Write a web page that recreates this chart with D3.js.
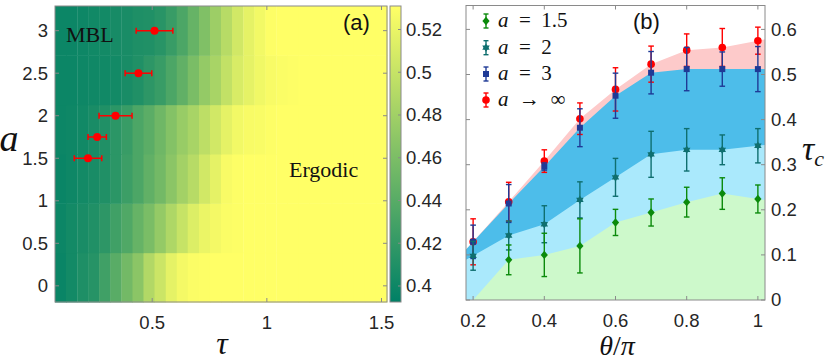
<!DOCTYPE html>
<html><head><meta charset="utf-8">
<script src="https://cdn.jsdelivr.net/npm/d3@7"></script>
<style>body{margin:0;background:#fff}svg{display:block}</style>
</head><body>
<script>
// ---------- Panel (a) data ----------
const tauCols = [0.100,0.148,0.197,0.245,0.293,0.341,0.390,0.438,0.486,0.534,0.583,0.631,0.679,0.728,0.776,0.824,0.872,0.921,0.969,1.017,1.066,1.114,1.162,1.210,1.259,1.307,1.355,1.403,1.452,1.500];
const aRows = [0.1, 0.68, 1.26, 1.84, 2.42, 3.0];
const heatA010 = [0.398,0.403,0.409,0.413,0.427,0.441,0.455,0.468,0.489,0.503,0.517,0.525,0.529,0.530,0.531,0.531,0.531,0.531,0.531,0.531,0.531,0.531,0.531,0.531,0.531,0.531,0.531,0.531,0.531,0.531];
const heatA068 = [0.399,0.403,0.406,0.410,0.417,0.427,0.436,0.448,0.459,0.473,0.487,0.500,0.512,0.520,0.525,0.529,0.530,0.531,0.531,0.531,0.531,0.531,0.531,0.531,0.531,0.531,0.531,0.531,0.531,0.531];
const heatA126 = [0.398,0.400,0.403,0.406,0.410,0.416,0.425,0.434,0.445,0.455,0.468,0.481,0.492,0.506,0.517,0.527,0.530,0.531,0.531,0.531,0.531,0.531,0.531,0.531,0.531,0.531,0.531,0.531,0.531,0.531];
const heatA184 = [0.399,0.400,0.402,0.406,0.410,0.416,0.423,0.434,0.442,0.453,0.464,0.475,0.484,0.495,0.506,0.517,0.524,0.527,0.528,0.530,0.531,0.531,0.531,0.531,0.531,0.531,0.531,0.531,0.531,0.531];
const heatA242 = [0.399,0.399,0.400,0.401,0.402,0.403,0.406,0.410,0.417,0.423,0.434,0.445,0.459,0.473,0.484,0.498,0.510,0.517,0.523,0.527,0.529,0.530,0.531,0.531,0.531,0.531,0.531,0.531,0.531,0.531];
const heatA300 = [0.399,0.399,0.400,0.402,0.403,0.405,0.406,0.409,0.410,0.414,0.423,0.434,0.448,0.462,0.478,0.492,0.506,0.517,0.524,0.530,0.531,0.531,0.531,0.531,0.531,0.531,0.531,0.531,0.531,0.531];
const heatRows = [heatA010, heatA068, heatA126, heatA184, heatA242, heatA300];
const critA = [1.5, 1.75, 2, 2.5, 3];
const critTau = [0.22, 0.26, 0.34, 0.44, 0.51];
const critTauErr = [0.06, 0.04, 0.072, 0.058, 0.08];
const aTicks = [0, 0.5, 1, 1.5, 2, 2.5, 3];
const tauTicks = [0.5, 1, 1.5];
const cbTicks = [0.4, 0.42, 0.44, 0.46, 0.48, 0.5, 0.52];
const cbTickLabels = ["0.4","0.42","0.44","0.46","0.48","0.5","0.52"];

// ---------- Panel (b) data ----------
const theta = [0.2, 0.3, 0.4, 0.5, 0.6, 0.7, 0.8, 0.9, 1.0];
const tcInf    = [0.129,0.218,0.308,0.402,0.467,0.523,0.554,0.560,0.575];
const tcInfErr = [0.051,0.043,0.025,0.035,0.048,0.040,0.036,0.042,0.030];
const tcA3     = [0.129,0.214,0.296,0.382,0.453,0.504,0.512,0.512,0.512];
const tcA3Err  = [0.037,0.042,0.008,0.042,0.050,0.047,0.048,0.038,0.050];
const tcA2     = [0.098,0.143,0.168,0.222,0.272,0.323,0.333,0.333,0.342];
const tcA2Err  = [0.032,0.032,0.041,0.040,0.042,0.051,0.047,0.033,0.038];
const tcA15    = [0.000,0.089,0.100,0.120,0.172,0.194,0.217,0.236,0.224];
const tcA15Err = [0.000,0.033,0.048,0.060,0.029,0.030,0.033,0.035,0.031];
const thetaTicks = [0.2, 0.4, 0.6, 0.8, 1];
const tcTicks = [0, 0.1, 0.2, 0.3, 0.4, 0.5, 0.6];

const W = 831, H = 362;
const svg = d3.select("body").append("svg").attr("width", W).attr("height", H);
const axisColor = "#8a8a8a", textColor = "#262626";
const sans = "'Liberation Sans', Arial, sans-serif";
const serif = "'Liberation Serif', 'Times New Roman', serif";
const tickFs = 18.5;

// ================= Panel (a) =================
const A = {l: 55, r: 387, t: 6, b: 302};
const dTau = tauCols[1] - tauCols[0];
const dA = aRows[1] - aRows[0];
const xa = d3.scaleLinear().domain([tauCols[0] - dTau/2, tauCols[tauCols.length-1] + dTau/2]).range([A.l, A.r]);
const ya = d3.scaleLinear().domain([aRows[0] - dA/2, aRows[aRows.length-1] + dA/2]).range([A.b, A.t]);
const cmin = 0.3925, cmax = 0.531;
const color = d3.scaleSequential(d3.interpolateRgb("#008066", "#ffff66")).domain([cmin, cmax]).clamp(true);

const cells = [];
aRows.forEach((a, i) => heatRows[i].forEach((v, j) => cells.push({a, tau: tauCols[j], v})));
svg.append("g").selectAll("rect").data(cells).join("rect")
  .attr("x", d => xa(d.tau - dTau/2))
  .attr("y", d => ya(d.a + dA/2))
  .attr("width", d => xa(d.tau + dTau/2) - xa(d.tau - dTau/2) + 0.5)
  .attr("height", d => ya(d.a - dA/2) - ya(d.a + dA/2) + 0.5)
  .attr("fill", d => color(d.v));

// frame + ticks (a)
const ga = svg.append("g");
ga.append("rect").attr("x", A.l).attr("y", A.t).attr("width", A.r - A.l).attr("height", A.b - A.t)
  .attr("fill", "none").attr("stroke", axisColor).attr("stroke-width", 1);
aTicks.forEach(t => {
  const y = ya(t);
  ga.append("line").attr("x1", A.l).attr("x2", A.l + 4).attr("y1", y).attr("y2", y).attr("stroke", axisColor);
  ga.append("line").attr("x1", A.r).attr("x2", A.r - 4).attr("y1", y).attr("y2", y).attr("stroke", axisColor);
  ga.append("text").attr("x", A.l - 7).attr("y", y).attr("dy", "0.35em").attr("text-anchor", "end")
    .attr("font-family", sans).attr("font-size", tickFs).attr("fill", textColor).text(t);
});
tauTicks.forEach(t => {
  const x = xa(t);
  ga.append("line").attr("x1", x).attr("x2", x).attr("y1", A.b).attr("y2", A.b - 4).attr("stroke", axisColor);
  ga.append("line").attr("x1", x).attr("x2", x).attr("y1", A.t).attr("y2", A.t + 4).attr("stroke", axisColor);
  ga.append("text").attr("x", x).attr("y", A.b + 27).attr("text-anchor", "middle")
    .attr("font-family", sans).attr("font-size", tickFs).attr("fill", textColor).text(t);
});

// critical points
const gc = svg.append("g");
critA.forEach((a, i) => {
  const y = ya(a), x0 = xa(critTau[i] - critTauErr[i]), x1 = xa(critTau[i] + critTauErr[i]);
  gc.append("line").attr("x1", x0).attr("x2", x1).attr("y1", y).attr("y2", y).attr("stroke", "#ff0000").attr("stroke-width", 1.5);
  [x0, x1].forEach(x => gc.append("line").attr("x1", x).attr("x2", x).attr("y1", y - 3).attr("y2", y + 3).attr("stroke", "#ff0000").attr("stroke-width", 1.5));
  gc.append("circle").attr("cx", xa(critTau[i])).attr("cy", y).attr("r", 4).attr("fill", "#ff0000");
});

svg.append("text").attr("x", 66).attr("y", 42).attr("font-family", serif).attr("font-size", 22).attr("fill", "#111").text("MBL");
svg.append("text").attr("x", 289).attr("y", 177).attr("font-family", serif).attr("font-size", 22).attr("fill", "#111").text("Ergodic");
svg.append("text").attr("x", 343).attr("y", 30).attr("font-family", sans).attr("font-size", 22).attr("fill", "#111").text("(a)");
svg.append("text").attr("x", 9).attr("y", 151).attr("text-anchor", "middle").attr("font-family", serif)
  .attr("font-style", "italic").attr("font-size", 38).attr("fill", "#111").text("a");
svg.append("text").attr("x", 222).attr("y", 354).attr("text-anchor", "middle").attr("font-family", serif)
  .attr("font-style", "italic").attr("font-size", 32).attr("fill", "#111").text("τ");

// colorbar
const CB = {l: 390, r: 401, t: 6, b: 302};
const yc = d3.scaleLinear().domain([cmin, cmax]).range([CB.b, CB.t]);
const defs = svg.append("defs");
const grad = defs.append("linearGradient").attr("id", "cbgrad").attr("x1", 0).attr("y1", 1).attr("x2", 0).attr("y2", 0);
d3.range(0, 1.0001, 0.1).forEach(s => grad.append("stop").attr("offset", s).attr("stop-color", color(cmin + s * (cmax - cmin))));
svg.append("rect").attr("x", CB.l).attr("y", CB.t).attr("width", CB.r - CB.l).attr("height", CB.b - CB.t)
  .attr("fill", "url(#cbgrad)").attr("stroke", axisColor).attr("stroke-width", 1);
cbTicks.forEach((t, i) => {
  const y = yc(t);
  svg.append("line").attr("x1", CB.r).attr("x2", CB.r - 3).attr("y1", y).attr("y2", y).attr("stroke", axisColor);
  svg.append("text").attr("x", CB.r + 5).attr("y", y).attr("dy", "0.35em").attr("font-family", sans)
    .attr("font-size", tickFs).attr("fill", textColor).text(cbTickLabels[i]);
});

// ================= Panel (b) =================
const B = {l: 466, r: 765, t: 5.5, b: 300};
const xb = d3.scaleLinear().domain([0.18, 1.02]).range([B.l, B.r]);
const yb = d3.scaleLinear().domain([0, 0.653]).range([B.b, B.t]);
defs.append("clipPath").attr("id", "clipb").append("rect").attr("x", B.l).attr("y", B.t).attr("width", B.r - B.l).attr("height", B.b - B.t);

function areaPts(vals) {
  const pts = theta.map((t, i) => [xb(t), yb(vals[i])]);
  const n = pts.length;
  const ext = (p, q, X) => [X, p[1] + (q[1] - p[1]) * (X - p[0]) / (q[0] - p[0])];
  return [ext(pts[0], pts[1], B.l), ...pts, ext(pts[n-2], pts[n-1], B.r)];
}
const gArea = svg.append("g").attr("clip-path", "url(#clipb)");
const area = d3.area().x(d => d[0]).y0(yb(0)).y1(d => d[1]);
const series = [
  {vals: tcInf, err: tcInfErr, fill: "#fdcaca", col: "#ff0000", sym: "circle"},
  {vals: tcA3,  err: tcA3Err,  fill: "#4dbdea", col: "#1f3a96", sym: "square"},
  {vals: tcA2,  err: tcA2Err,  fill: "#aae9fc", col: "#0f6f6f", sym: "hex"},
  {vals: tcA15, err: tcA15Err, fill: "#cdf9cb", col: "#0b8a0b", sym: "diamond"}
];
series.forEach(s => gArea.append("path").attr("d", area(areaPts(s.vals))).attr("fill", s.fill));

function drawSym(g, sym, x, y, col) {
  if (sym === "circle") g.append("circle").attr("cx", x).attr("cy", y).attr("r", 3.8).attr("fill", col);
  else if (sym === "square") g.append("rect").attr("x", x - 3).attr("y", y - 3).attr("width", 6).attr("height", 6).attr("fill", col);
  else if (sym === "diamond") g.append("path").attr("d", `M${x},${y-4.2}L${x+3.6},${y}L${x},${y+4.2}L${x-3.6},${y}Z`).attr("fill", col);
  else {
    const r = 4.3;
    const tri = k => d3.range(3).map(j => { const ang = -Math.PI/2 + k*Math.PI/3 + j*2*Math.PI/3; return [x + r*Math.cos(ang), y + r*Math.sin(ang)]; });
    [0, 1].forEach(k => g.append("path").attr("d", "M" + tri(k).map(p => p.join(",")).join("L") + "Z").attr("fill", col));
  }
}
function errBar(g, x, ylo, yhi, col, cw) {
  g.append("line").attr("x1", x).attr("x2", x).attr("y1", ylo).attr("y2", yhi).attr("stroke", col).attr("stroke-width", 1.4);
  [ylo, yhi].forEach(y => g.append("line").attr("x1", x - cw).attr("x2", x + cw).attr("y1", y).attr("y2", y).attr("stroke", col).attr("stroke-width", 1.4));
}
const gPts = svg.append("g");
series.forEach(s => {
  theta.forEach((t, i) => {
    if (s.vals[i] <= 0) return;
    const x = xb(t);
    errBar(gPts, x, yb(s.vals[i] - s.err[i]), yb(s.vals[i] + s.err[i]), s.col, 2.8);
    drawSym(gPts, s.sym, x, yb(s.vals[i]), s.col);
  });
});

// frame + ticks (b)
const gb = svg.append("g");
gb.append("rect").attr("x", B.l).attr("y", B.t).attr("width", B.r - B.l).attr("height", B.b - B.t)
  .attr("fill", "none").attr("stroke", axisColor).attr("stroke-width", 1);
thetaTicks.forEach(t => {
  const x = xb(t);
  gb.append("line").attr("x1", x).attr("x2", x).attr("y1", B.b).attr("y2", B.b - 4).attr("stroke", axisColor);
  gb.append("line").attr("x1", x).attr("x2", x).attr("y1", B.t).attr("y2", B.t + 4).attr("stroke", axisColor);
  gb.append("text").attr("x", x).attr("y", B.b + 27).attr("text-anchor", "middle")
    .attr("font-family", sans).attr("font-size", tickFs).attr("fill", textColor).text(t);
});
tcTicks.forEach(t => {
  const y = yb(t);
  gb.append("line").attr("x1", B.l).attr("x2", B.l + 4).attr("y1", y).attr("y2", y).attr("stroke", axisColor);
  gb.append("line").attr("x1", B.r).attr("x2", B.r - 4).attr("y1", y).attr("y2", y).attr("stroke", axisColor);
  gb.append("text").attr("x", B.r + 6).attr("y", y).attr("dy", "0.35em")
    .attr("font-family", sans).attr("font-size", tickFs).attr("fill", textColor).text(t);
});

// legend
const legendItems = [
  {s: series[3], rest: "\u2002=\u20021.5"},
  {s: series[2], rest: "\u2002=\u20022"},
  {s: series[1], rest: "\u2002=\u20023"},
  {s: series[0], rest: "\u2002→\u2002∞"}
];
const legY = [21, 47.7, 74, 100];
legendItems.forEach((it, i) => {
  const x = 486, y = legY[i];
  errBar(gb, x, y + 7, y - 7, it.s.col, 2.5);
  drawSym(gb, it.s.sym, x, y, it.s.col);
  const tx = gb.append("text").attr("x", 498).attr("y", y + 6).attr("font-family", serif).attr("font-size", 21).attr("fill", "#111");
  tx.append("tspan").attr("font-style", "italic").text("a");
  tx.append("tspan").text(it.rest);
});

svg.append("text").attr("x", 633).attr("y", 29).attr("font-family", sans).attr("font-size", 22).attr("fill", "#111").text("(b)");
const tl = svg.append("text").attr("x", 617).attr("y", 355).attr("text-anchor", "middle").attr("font-family", serif).attr("font-size", 28).attr("fill", "#111");
tl.append("tspan").attr("font-style", "italic").text("θ");
tl.append("tspan").text("/");
tl.append("tspan").attr("font-style", "italic").text("π");
const tc = svg.append("text").attr("x", 802).attr("y", 160).attr("font-family", serif).attr("font-size", 34).attr("fill", "#111").attr("font-style", "italic");
tc.append("tspan").text("τ");
tc.append("tspan").attr("font-size", 22).attr("dy", 6).text("c");
</script>
</body></html>
